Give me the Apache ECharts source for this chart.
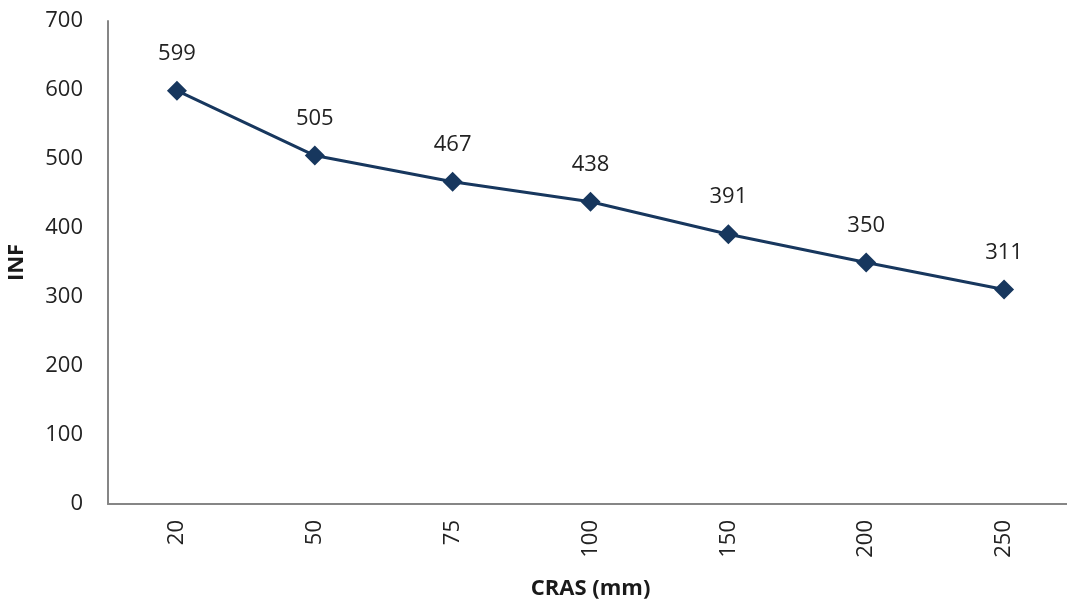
<!DOCTYPE html>
<html>
<head>
<meta charset="utf-8">
<script src="https://cdn.jsdelivr.net/npm/echarts@6/dist/echarts.min.js"></script>
<style>html,body{margin:0;padding:0;background:#fff}#c{width:1067px;height:605px}</style>
</head>
<body>
<div id="c"></div>
<script>
const categories = ['20', '50', '75', '100', '150', '200', '250'];
const infValues = [599, 505, 467, 438, 391, 350, 311];
const yTicks = { min: 0, max: 700, interval: 100 };
const xTitle = 'CRAS (mm)';
const yTitle = 'INF';

const chart = echarts.init(document.getElementById('c'));
const font = '"Open Sans", "Noto Sans", sans-serif';
chart.setOption({
  animation: false,
  grid: { left: 108, top: 21, height: 483, width: 965, containLabel: false, outerBoundsMode: 'none' },
  xAxis: {
    type: 'category',
    data: categories,
    boundaryGap: true,
    axisLine: { lineStyle: { color: '#868686', width: 2 } },
    axisTick: { show: false },
    axisLabel: { rotate: 90, margin: 16, color: '#222', fontSize: 22, fontFamily: font },
    name: xTitle,
    nameLocation: 'middle',
    nameGap: 74,
    nameTextStyle: { fontWeight: 'bold', fontSize: 22, color: '#1a1a1a', fontFamily: font }
  },
  yAxis: {
    type: 'value',
    min: yTicks.min, max: yTicks.max, interval: yTicks.interval,
    splitLine: { show: false },
    axisLine: { show: true, lineStyle: { color: '#868686', width: 2 } },
    axisTick: { show: false },
    axisLabel: { margin: 25, color: '#222', fontSize: 22, fontFamily: font },
    name: yTitle,
    nameLocation: 'middle',
    nameGap: 80,
    nameRotate: 90,
    nameTextStyle: { fontWeight: 'bold', fontSize: 22, color: '#1a1a1a', fontFamily: font }
  },
  series: [{
    type: 'line',
    data: infValues,
    symbol: 'diamond',
    symbolSize: 20,
    lineStyle: { color: '#17375E', width: 3 },
    itemStyle: { color: '#17375E' },
    label: { show: true, position: 'top', distance: 16, color: '#222', fontSize: 22, fontFamily: font }
  }]
});
</script>
</body>
</html>
